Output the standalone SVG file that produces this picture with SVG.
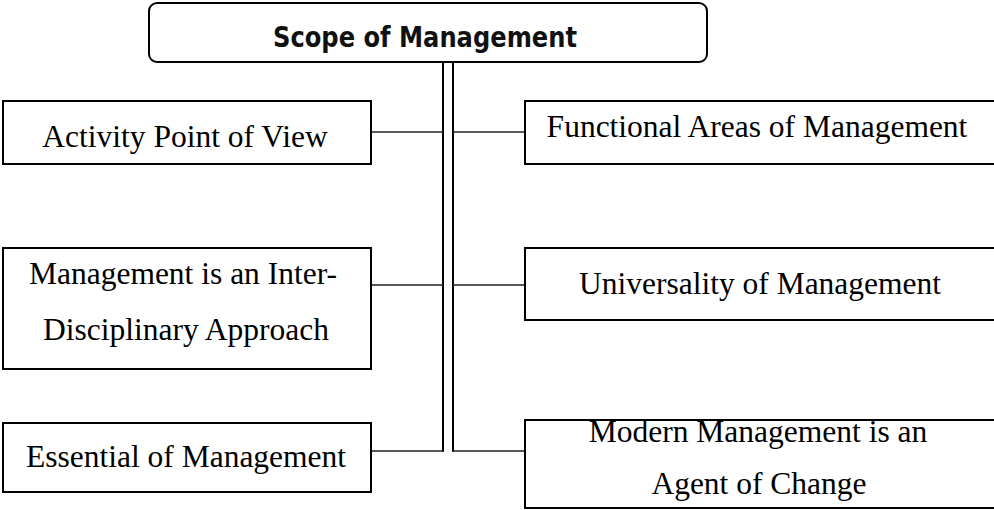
<svg xmlns="http://www.w3.org/2000/svg" width="994" height="510" viewBox="0 0 994 510">
<style>
.box{fill:#fff;stroke:#000;stroke-width:2}
.t{font-family:"Liberation Serif","Times New Roman",serif;font-size:31.5px;fill:#000;text-anchor:middle}
.title{font-family:"DejaVu Sans",Verdana,sans-serif;font-weight:bold;font-size:28px;fill:#111;text-anchor:middle}
.trunk{stroke:#000;stroke-width:2;fill:none}
.conn{stroke:#222;stroke-width:1.6;fill:none}
</style>
<rect width="994" height="510" fill="#fff"/>
<g id="connectors">
<line class="trunk" x1="443" y1="62" x2="443" y2="452"/>
<line class="trunk" x1="453" y1="62" x2="453" y2="452"/>
<line class="conn" x1="371" y1="132" x2="443" y2="132"/>
<line class="conn" x1="453" y1="132" x2="525" y2="132"/>
<line class="conn" x1="371" y1="285" x2="443" y2="285"/>
<line class="conn" x1="453" y1="285" x2="525" y2="285"/>
<line class="conn" x1="371" y1="451" x2="444" y2="451"/>
<line class="conn" x1="452" y1="451" x2="525" y2="451"/>
</g>
<g id="root">
<rect class="box" x="149" y="3" width="558" height="59" rx="8"/>
<text class="title" x="425" y="47" textLength="304" lengthAdjust="spacingAndGlyphs">Scope of Management</text>
</g>
<g id="activity">
<rect class="box" x="3" y="101" width="368" height="63"/>
<text class="t" x="185" y="147">Activity Point of View</text>
</g>
<g id="functional">
<rect class="box" x="525" y="101" width="480" height="63"/>
<text class="t" x="757" y="137">Functional Areas of Management</text>
</g>
<g id="interdisciplinary">
<rect class="box" x="3" y="248" width="368" height="121"/>
<text class="t" x="183" y="284">Management is an Inter-</text>
<text class="t" x="186" y="340">Disciplinary Approach</text>
</g>
<g id="universality">
<rect class="box" x="525" y="248" width="480" height="72"/>
<text class="t" x="760" y="294">Universality of Management</text>
</g>
<g id="essential">
<rect class="box" x="3" y="423" width="368" height="69"/>
<text class="t" x="186" y="467">Essential of Management</text>
</g>
<g id="agent">
<rect class="box" x="525" y="420" width="480" height="88"/>
<text class="t" x="758" y="442">Modern Management is an</text>
<text class="t" x="759" y="494">Agent of Change</text>
</g>
</svg>
